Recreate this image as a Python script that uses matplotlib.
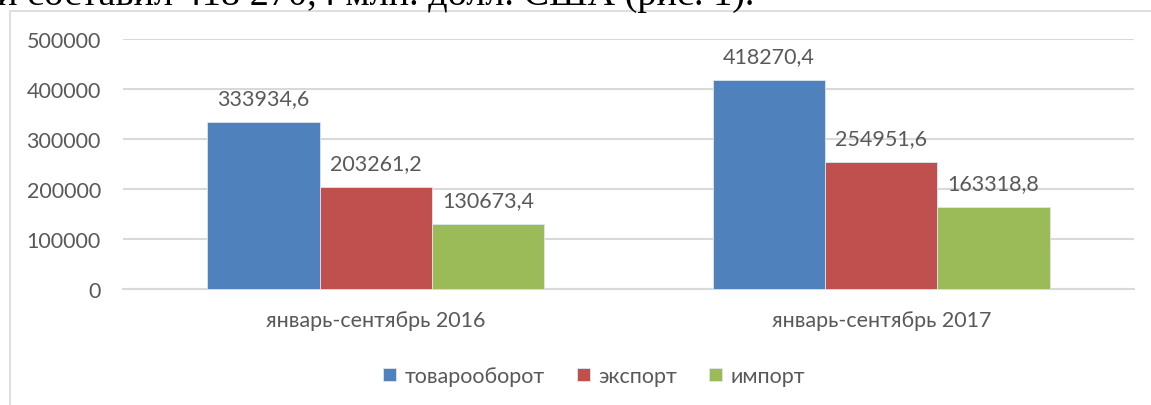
import matplotlib
matplotlib.use("Agg")
import matplotlib.pyplot as plt
from matplotlib.patches import Rectangle
import numpy as np

periods = ["январь-сентябрь 2016", "январь-сентябрь 2017"]
series_names = ["товарооборот", "экспорт", "импорт"]
turnover = [333934.6, 418270.4]
exports = [203261.2, 254951.6]
imports = [130673.4, 163318.8]
labels_fmt = lambda v: f"{v:.1f}".replace(".", ",")

colors = ["#4F81BD", "#C0504D", "#9BBB59"]
grey_text = "#595959"
grid_col = "#d9d9d9"

plt.rcParams["font.family"] = ["Lato", "DejaVu Sans"]

fig = plt.figure(figsize=(11.51, 4.06), dpi=100)
W, H = 1151, 406
ax = fig.add_axes([123 / W, 1 - 290 / H, 1011 / W, 250 / H])

x = np.arange(len(periods))
bw = 0.2223
for i, (vals, col, name) in enumerate(zip([turnover, exports, imports], colors, series_names)):
    bars = ax.bar(x + (i - 1) * bw, vals, bw, color=col, edgecolor="#dde6f0",
                  linewidth=0.6, label=name, zorder=3)
    for b, v in zip(bars, vals):
        ax.annotate(labels_fmt(v), (b.get_x() + b.get_width() / 2, v),
                    xytext=(0, 10), textcoords="offset points",
                    ha="center", va="bottom", fontsize=15.5, color=grey_text)

ax.set_xlim(-0.5, 1.5)
ax.set_ylim(0, 500000)
ax.set_yticks(np.arange(0, 500001, 100000))
ax.set_yticklabels([str(v) for v in range(0, 500001, 100000)])
ax.set_xticks(x)
ax.set_xticklabels(periods)
ax.tick_params(axis="y", length=0, pad=16, labelsize=15.5, labelcolor=grey_text)
ax.tick_params(axis="x", length=0, pad=15, labelsize=15.5, labelcolor=grey_text)
ax.yaxis.grid(True, color=grid_col, linewidth=1.5, zorder=0)
ax.set_axisbelow(True)
for s in ["top", "right", "left"]:
    ax.spines[s].set_visible(False)
ax.spines["bottom"].set_color(grid_col)
ax.spines["bottom"].set_linewidth(1.5)

fig.legend(loc="center", bbox_to_anchor=(594 / W, 1 - 377 / H), ncol=3,
           frameon=False, fontsize=15.5, labelcolor=grey_text,
           handlelength=0.6, handleheight=0.6, handletextpad=0.4,
           columnspacing=1.5)

# chart frame
fig.add_artist(Rectangle((10 / W, -0.2), 1.2, 1 - 12 / H + 0.2,
                         transform=fig.transFigure, fill=False,
                         edgecolor=grid_col, linewidth=1.2))

# line of document text above the chart
fig.text(-0.003, 1 - 5 / H, "и составил 418 270,4 млн. долл. США (рис. 1).",
         fontfamily="Liberation Serif", fontsize=27.5, va="baseline", ha="left",
         color="black")

fig.savefig("out.png", dpi=100)
